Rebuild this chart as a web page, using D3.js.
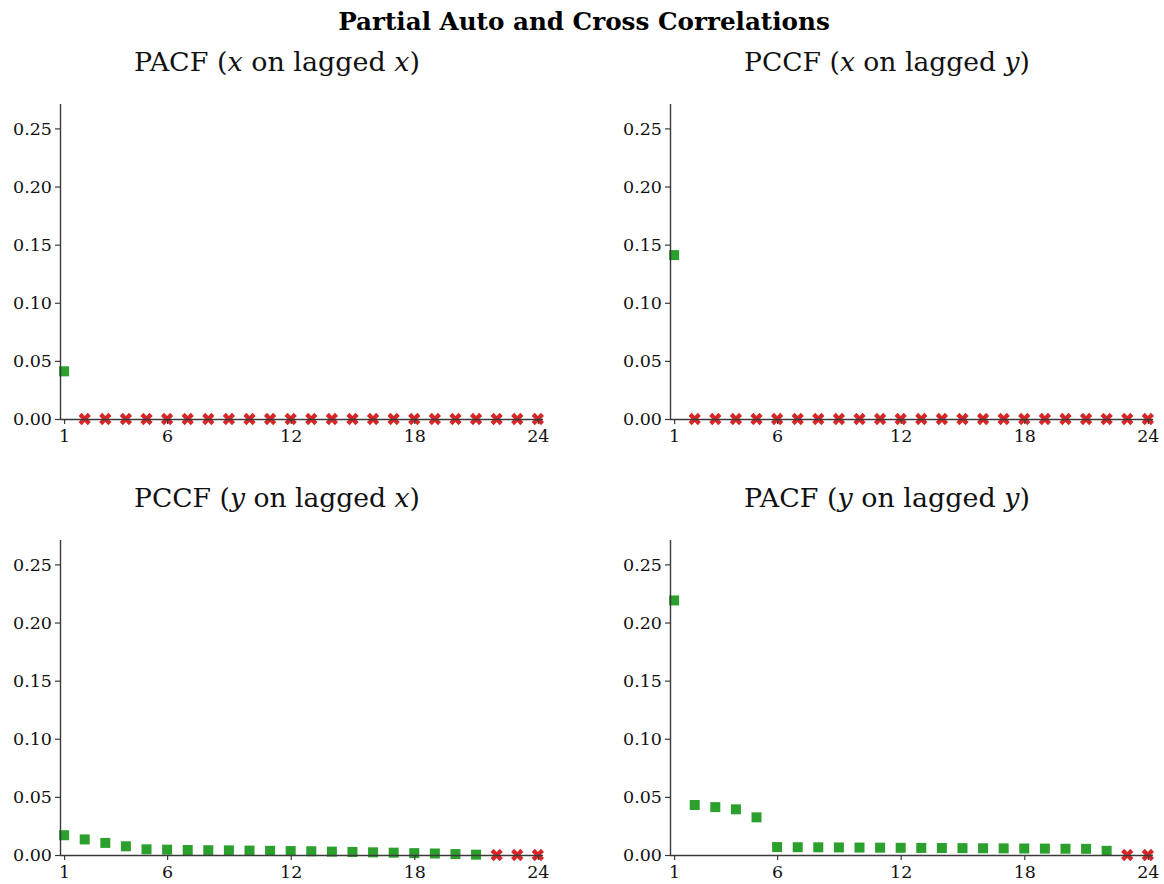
<!DOCTYPE html>
<html><head><meta charset="utf-8">
<script src="https://cdn.jsdelivr.net/npm/d3@7"></script>
<style>
body{margin:0;background:#fff;}
svg{display:block;}
</style></head>
<body><svg id="c" width="1164" height="884"></svg>
<script>
const lags = [1,2,3,4,5,6,7,8,9,10,11,12,13,14,15,16,17,18,19,20,21,22,23,24];
const xTicks = [1,6,12,18,24];
const yTicks = [0,0.05,0.10,0.15,0.20,0.25];
const mainTitle = "Partial Auto and Cross Correlations";

const pacfXX = [0.041,0,0,0,0,0,0,0,0,0,0,0,0,0,0,0,0,0,0,0,0,0,0,0];
const sigXX  = [1,0,0,0,0,0,0,0,0,0,0,0,0,0,0,0,0,0,0,0,0,0,0,0];
const pccfXY = [0.141,0,0,0,0,0,0,0,0,0,0,0,0,0,0,0,0,0,0,0,0,0,0,0];
const sigXY  = [1,0,0,0,0,0,0,0,0,0,0,0,0,0,0,0,0,0,0,0,0,0,0,0];
const pccfYX = [0.017,0.0134,0.0104,0.0075,0.0049,0.0046,0.0043,0.0041,0.0040,0.0038,0.0036,0.0034,0.0032,0.0029,0.0026,0.0023,0.0020,0.0016,0.0013,0.0008,0.0003,0,0,0];
const sigYX  = [1,1,1,1,1,1,1,1,1,1,1,1,1,1,1,1,1,1,1,1,1,0,0,0];
const pacfYY = [0.219,0.043,0.0412,0.0393,0.0324,0.0068,0.0067,0.0066,0.0065,0.0064,0.0063,0.0062,0.0061,0.0060,0.0059,0.0058,0.0057,0.0056,0.0055,0.0054,0.0053,0.0036,0,0];
const sigYY  = [1,1,1,1,1,1,1,1,1,1,1,1,1,1,1,1,1,1,1,1,1,1,0,0];

const panels = [
  {title:["PACF (","x"," on lagged ","x",")"], vals:pacfXX, sig:sigXX, col:0, row:0},
  {title:["PCCF (","x"," on lagged ","y",")"], vals:pccfXY, sig:sigXY, col:1, row:0},
  {title:["PCCF (","y"," on lagged ","x",")"], vals:pccfYX, sig:sigYX, col:0, row:1},
  {title:["PACF (","y"," on lagged ","y",")"], vals:pacfYY, sig:sigYY, col:1, row:1}
];

const GREEN = "#2ca02c", RED = "#d62728", AX = "#3a3a3a";
const svg = d3.select("#c");
const colLeft = [60, 670], axW = 483;
const rowBottom = [419, 855], axH = 315;
const titleCenter = [277, 887];
const titleBase = [71, 507];

const mt = svg.append("text").attr("x",584).attr("y",30).attr("text-anchor","middle")
  .style("font-family","'DejaVu Serif', serif").style("font-weight","bold").style("font-size","24px")
  .attr("fill","#000").text(mainTitle);
{ const w = mt.node().getComputedTextLength(); mt.style("font-size", (24*492/w).toFixed(2)+"px"); }

const crossPath = d3.symbol(d3.symbolCross, 95)();

panels.forEach(p => {
  const x0 = colLeft[p.col], yb = rowBottom[p.row];
  const x = d3.scaleLinear().domain([0.8,24.25]).range([x0, x0+axW]);
  const y = d3.scaleLinear().domain([0,0.271]).range([yb, yb-axH]);
  const g = svg.append("g");

  const t = g.append("text").attr("x", titleCenter[p.col]).attr("y", titleBase[p.row])
    .attr("text-anchor","middle").style("font-family","'DejaVu Serif', serif").style("font-size","26px").attr("fill","#111");
  p.title.forEach((s,i) => {
    t.append("tspan").text(s).style("font-style", (i===1||i===3)?"italic":"normal");
  });
  { const w = t.node().getComputedTextLength(); t.style("font-size", (26*286/w).toFixed(2)+"px"); }

  const data = lags.map((l,i)=>({lag:l, v:p.vals[i], s:p.sig[i]}));
  g.selectAll("rect.sq").data(data.filter(d=>d.s)).join("rect").attr("class","sq")
    .attr("x", d=>x(d.lag)-5).attr("y", d=>y(d.v)-5).attr("width",10).attr("height",10)
    .attr("fill", GREEN);
  g.selectAll("path.xm").data(data.filter(d=>!d.s)).join("path").attr("class","xm")
    .attr("d", crossPath)
    .attr("transform", d=>`translate(${x(d.lag)},${y(d.v)}) rotate(45)`)
    .attr("fill", RED);

  const xa = g.append("g").attr("transform",`translate(0,${yb})`)
    .call(d3.axisBottom(x).tickValues(xTicks).tickSize(5).tickPadding(6).tickFormat(d3.format("d")));
  const ya = g.append("g").attr("transform",`translate(${x0},0)`)
    .call(d3.axisLeft(y).tickValues(yTicks).tickSize(5).tickPadding(3).tickFormat(d3.format(".2f")));
  [xa, ya].forEach(a => {
    a.select(".domain").attr("stroke", AX).attr("stroke-width",1.4);
    a.selectAll(".tick line").attr("stroke", AX).attr("stroke-width",1.2);
    a.selectAll(".tick text").style("font-family","'DejaVu Serif', serif").style("font-size","17.5px").attr("fill","#111");
  });
  xa.select(".domain").attr("d", `M${x0},0.5H${x0+axW}`);
  ya.select(".domain").attr("d", `M0.5,${yb}V${yb-axH}`);
});
</script></body></html>
